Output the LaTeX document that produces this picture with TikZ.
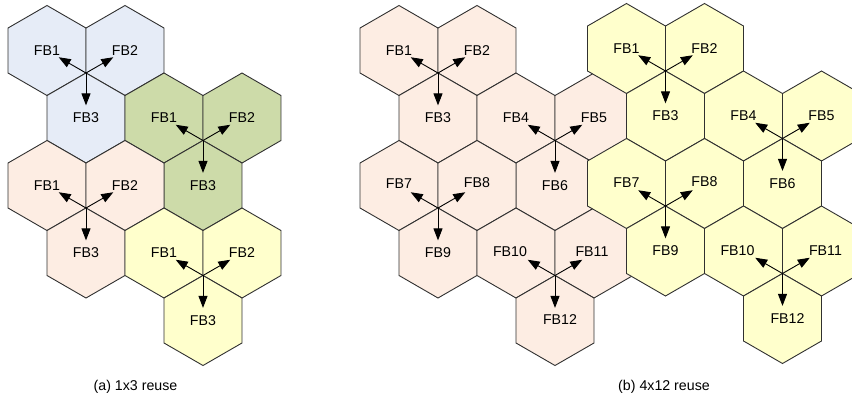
\documentclass[tikz,border=0pt]{standalone}
\usepackage{fontspec}
\setmainfont{Liberation Sans}
\usetikzlibrary{arrows.meta,calc}

\definecolor{cellblue}{HTML}{E6ECF7}
\definecolor{cellgreen}{HTML}{CDDBA9}
\definecolor{cellpeach}{HTML}{FDEDE3}
\definecolor{cellyellow}{HTML}{FFFFCC}
\definecolor{edgegray}{HTML}{303030}

% pointy-top hexagonal cell: name, x, y, fill, label, label offset
\newcommand{\hexcell}[6]{%
  \filldraw[cellline, fill=#4] (#2,#3) ++(0,-45) -- ++(38.97,22.5) -- ++(0,45)
    -- ++(-38.97,22.5) -- ++(-38.97,-22.5) -- ++(0,-45) -- cycle;
  \coordinate (#1) at (#2,#3);
  \node[celltext] (#1-l) at ($(#1)+(#6)$) {#5};
}
% three arrows from a shared corner towards the centres of its cells
\newcommand{\fanout}[4]{%
  \draw[fbarrow] (#1) -- ($(#1)!0.7!(#2)$);
  \draw[fbarrow] (#1) -- ($(#1)!0.7!(#3)$);
  \draw[fbarrow] (#1) -- ($(#1)!0.72!(#4)$);
}

\begin{document}
\begin{tikzpicture}[x=1pt,y=-1pt,
  cellline/.style={draw=edgegray, line width=0.9pt, line join=miter},
  celltext/.style={font=\fontsize{14.2}{17}\selectfont, inner sep=0pt, text=black},
  fbarrow/.style={draw=black, line width=0.9pt, -{Triangle[length=12pt,width=9pt]}},
  caption/.style={font=\fontsize{14.2}{17}\selectfont, inner sep=0pt}]
\useasboundingbox (0,0) rectangle (852,400);
\clip (0,0) rectangle (852,400);

% ---------- (a) 1x3 reuse ----------
\hexcell{a1}{47}{50.5}{cellblue}{FB1}{0,0}
\hexcell{a2}{125}{50.5}{cellblue}{FB2}{0,0}
\hexcell{a3}{86}{118}{cellblue}{FB3}{0,0}
\hexcell{b1}{164}{118}{cellgreen}{FB1}{0,0}
\hexcell{b2}{242}{118}{cellgreen}{FB2}{0,0}
\hexcell{b3}{203}{185.5}{cellgreen}{FB3}{0,0}
\hexcell{c1}{47}{185.5}{cellpeach}{FB1}{0,0}
\hexcell{c2}{125}{185.5}{cellpeach}{FB2}{0,0}
\hexcell{c3}{86}{253}{cellpeach}{FB3}{0,0}
\hexcell{d1}{164}{253}{cellyellow}{FB1}{0,0}
\hexcell{d2}{242}{253}{cellyellow}{FB2}{0,0}
\hexcell{d3}{203}{320.5}{cellyellow}{FB3}{0,0}

\coordinate (va) at (86,73);
\coordinate (vb) at (203,140.5);
\coordinate (vc) at (86,208);
\coordinate (vd) at (203,275.5);
\fanout{va}{a1}{a2}{a3}
\fanout{vb}{b1}{b2}{b3}
\fanout{vc}{c1}{c2}{c3}
\fanout{vd}{d1}{d2}{d3}

% ---------- (b) 4x12 reuse, first cluster ----------
\hexcell{p1}{399}{50.5}{cellpeach}{FB1}{0,0}
\hexcell{p2}{477}{50.5}{cellpeach}{FB2}{0,0}
\hexcell{p3}{438}{118}{cellpeach}{FB3}{0,0}
\hexcell{p4}{516}{118}{cellpeach}{FB4}{0,0}
\hexcell{p5}{594}{118}{cellpeach}{FB5}{0,0}
\hexcell{p6}{555}{185.5}{cellpeach}{FB6}{0,0}
\hexcell{p7}{399}{185.5}{cellpeach}{FB7}{0,-2}
\hexcell{p8}{477}{185.5}{cellpeach}{FB8}{0,-3}
\hexcell{p9}{438}{253}{cellpeach}{FB9}{0,0}
\hexcell{p10}{516}{253}{cellpeach}{FB10}{-6,-1}
\hexcell{p11}{594}{253}{cellpeach}{FB11}{-2,-1}
\hexcell{p12}{555}{320.5}{cellpeach}{FB12}{5,-1}

\coordinate (vp1) at (438,73);
\coordinate (vp2) at (555,140.5);
\coordinate (vp3) at (438,208);
\coordinate (vp4) at (555,275.5);
\fanout{vp1}{p1}{p2}{p3}
\fanout{vp2}{p4}{p5}{p6}
\fanout{vp3}{p7}{p8}{p9}
\fanout{vp4}{p10}{p11}{p12}

% ---------- (b) 4x12 reuse, second cluster ----------
\hexcell{y1}{626.5}{48.5}{cellyellow}{FB1}{0,0}
\hexcell{y2}{704.5}{48.5}{cellyellow}{FB2}{0,0}
\hexcell{y3}{665.5}{116}{cellyellow}{FB3}{0,0}
\hexcell{y4}{743.5}{116}{cellyellow}{FB4}{0,0}
\hexcell{y5}{821.5}{116}{cellyellow}{FB5}{0,0}
\hexcell{y6}{782.5}{183.5}{cellyellow}{FB6}{0,0}
\hexcell{y7}{626.5}{183.5}{cellyellow}{FB7}{0,-1}
\hexcell{y8}{704.5}{183.5}{cellyellow}{FB8}{0,-2}
\hexcell{y9}{665.5}{251}{cellyellow}{FB9}{0,0}
\hexcell{y10}{743.5}{251}{cellyellow}{FB10}{-6,0}
\hexcell{y11}{821.5}{251}{cellyellow}{FB11}{4,0}
\hexcell{y12}{782.5}{318.5}{cellyellow}{FB12}{5,0}

\coordinate (vy1) at (665.5,71);
\coordinate (vy2) at (782.5,138.5);
\coordinate (vy3) at (665.5,206);
\coordinate (vy4) at (782.5,273.5);
\fanout{vy1}{y1}{y2}{y3}
\fanout{vy2}{y4}{y5}{y6}
\fanout{vy3}{y7}{y8}{y9}
\fanout{vy4}{y10}{y11}{y12}

% ---------- captions ----------
\node[caption] (capa) at (135.5,387) {(a) 1x3 reuse};
\node[caption] (capb) at (664,387) {(b) 4x12 reuse};
\end{tikzpicture}
\end{document}
